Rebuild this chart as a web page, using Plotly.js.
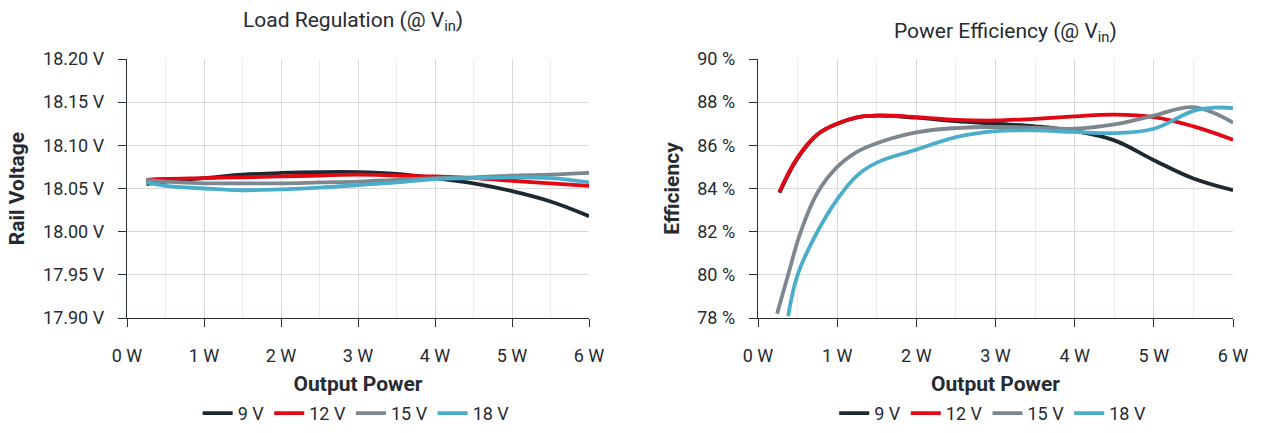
<!DOCTYPE html>
<html><head><meta charset="utf-8">
<script src="https://cdn.plot.ly/plotly-3.0.1.min.js"></script>
<style>html,body{margin:0;padding:0;background:#fff}#chart{width:1263px;height:433px}</style>
</head><body><div id="chart"></div>
<script>
// ---- Data ----
var seriesNames = ['9 V', '12 V', '15 V', '18 V'];
var seriesColors = ['#1e2830', '#e30613', '#7d878f', '#4aaeca'];

// Load regulation (Rail voltage, V) vs output power (W)
var lrX = [0.25, 0.5, 1, 1.5, 2, 2.5, 3, 3.5, 4, 4.5, 5, 5.5, 6];
var lr9  = [18.055, 18.058, 18.062, 18.066, 18.068, 18.069, 18.069, 18.067, 18.062, 18.056, 18.047, 18.035, 18.018];
var lr12 = [18.060, 18.061, 18.062, 18.063, 18.064, 18.065, 18.066, 18.065, 18.064, 18.062, 18.059, 18.056, 18.053];
var lr15 = [18.060, 18.058, 18.056, 18.056, 18.056, 18.057, 18.058, 18.060, 18.062, 18.063, 18.065, 18.066, 18.068];
var lr18 = [18.057, 18.053, 18.050, 18.048, 18.049, 18.051, 18.054, 18.057, 18.061, 18.062, 18.063, 18.062, 18.057];

// Power efficiency (%) vs output power (W)
var ef9X  = [0.27, 0.5, 0.75, 1, 1.25, 1.5, 2, 2.5, 3, 3.5, 4, 4.5, 5, 5.5, 6];
var ef9   = [83.8, 85.4, 86.5, 87.0, 87.3, 87.38, 87.28, 87.12, 87.0, 86.88, 86.66, 86.23, 85.31, 84.46, 83.92];
var ef12X = [0.27, 0.5, 0.75, 1, 1.25, 1.5, 2, 2.5, 3, 3.5, 4, 4.5, 5, 5.5, 6];
var ef12  = [83.85, 85.45, 86.5, 87.0, 87.3, 87.38, 87.31, 87.18, 87.15, 87.23, 87.34, 87.42, 87.31, 86.88, 86.26];
var ef15X = [0.24, 0.38, 0.54, 0.75, 1, 1.25, 1.5, 2, 2.5, 3, 3.5, 4, 4.5, 5, 5.5, 6];
var ef15  = [78.2, 80.0, 82.0, 83.8, 85.0, 85.7, 86.1, 86.6, 86.8, 86.85, 86.82, 86.77, 86.97, 87.38, 87.77, 87.05];
var ef18X = [0.38, 0.5, 0.75, 1, 1.25, 1.5, 2, 2.5, 3, 3.5, 4, 4.5, 5, 5.5, 5.8, 6];
var ef18  = [78.08, 80.0, 82.0, 83.5, 84.6, 85.2, 85.8, 86.38, 86.66, 86.69, 86.62, 86.57, 86.77, 87.6, 87.75, 87.72];

var xTickVals = [0, 1, 2, 3, 4, 5, 6];
var xTickText = ['0 W', '1 W', '2 W', '3 W', '4 W', '5 W', '6 W'];
var lrTickVals = [17.90, 17.95, 18.00, 18.05, 18.10, 18.15, 18.20];
var lrTickText = ['17.90 V', '17.95 V', '18.00 V', '18.05 V', '18.10 V', '18.15 V', '18.20 V'];
var efTickVals = [78, 80, 82, 84, 86, 88, 90];
var efTickText = ['78 %', '80 %', '82 %', '84 %', '86 %', '88 %', '90 %'];

// ---- Traces ----
var lrY = [lr9, lr12, lr15, lr18];
var efX = [ef9X, ef12X, ef15X, ef18X];
var efY = [ef9, ef12, ef15, ef18];
var traces = [];
for (var i = 0; i < 4; i++) {
  traces.push({x: lrX, y: lrY[i], name: seriesNames[i], type: 'scatter', mode: 'lines',
    line: {color: seriesColors[i], width: 3.8, shape: 'spline', smoothing: 1.1},
    xaxis: 'x', yaxis: 'y', legend: 'legend'});
}
for (var j = 0; j < 4; j++) {
  traces.push({x: efX[j], y: efY[j], name: seriesNames[j], type: 'scatter', mode: 'lines',
    line: {color: seriesColors[j], width: 3.8, shape: 'spline', smoothing: 1.1},
    xaxis: 'x2', yaxis: 'y2', legend: 'legend2'});
}

var fontFam = 'Roboto, "Open Sans", sans-serif';
var txtCol = '#262b31';
function xax(domain, anchor) {
  return {domain: domain, anchor: anchor, range: [0, 6], tickmode: 'array', tickvals: xTickVals, ticktext: xTickText,
    showline: true, linecolor: '#2a2f36', linewidth: 1.3, ticks: 'outside', ticklen: 8, tickcolor: '#2a2f36',
    ticklabelstandoff: 13,
    showgrid: true, gridcolor: '#d9d9d9', gridwidth: 1, zeroline: false,
    minor: {dtick: 0.5, showgrid: true, gridcolor: '#ececec', gridwidth: 1, ticks: ''},
    tickfont: {size: 18, color: txtCol, family: fontFam},
    title: {text: 'Output Power', font: {size: 21, color: txtCol, family: fontFam, weight: 'bold'}, standoff: 11},
    fixedrange: true};
}
function yax(anchor, range, vals, texts, title) {
  return {domain: [0, 1], anchor: anchor, range: range, tickmode: 'array', tickvals: vals, ticktext: texts,
    showline: true, linecolor: '#2a2f36', linewidth: 1.3, ticks: 'outside', ticklen: 8, tickcolor: '#2a2f36',
    ticklabelstandoff: 10,
    showgrid: true, gridcolor: '#d9d9d9', gridwidth: 1, zeroline: false,
    tickfont: {size: 18, color: txtCol, family: fontFam},
    title: {text: title, font: {size: 21, color: txtCol, family: fontFam, weight: 'bold'}, standoff: 12},
    fixedrange: true};
}

var layout = {
  width: 1263, height: 433,
  margin: {l: 0, r: 0, t: 59, b: 115},
  paper_bgcolor: '#fff', plot_bgcolor: '#fff',
  font: {family: fontFam, color: txtCol},
  showlegend: true,
  xaxis: xax([0.1006, 0.4664], 'y'),
  yaxis: yax('x', [17.9, 18.2], lrTickVals, lrTickText, 'Rail Voltage'),
  xaxis2: xax([0.6002, 0.9763], 'y2'),
  yaxis2: yax('x2', [78, 90], efTickVals, efTickText, 'Efficiency'),
  legend: {orientation: 'h', x: 0.282, xanchor: 'center', y: -0.44, yanchor: 'bottom',
    font: {size: 18, color: txtCol, family: fontFam}, itemwidth: 30, tracegroupgap: 0, bgcolor: 'rgba(0,0,0,0)'},
  legend2: {orientation: 'h', x: 0.786, xanchor: 'center', y: -0.44, yanchor: 'bottom',
    font: {size: 18, color: txtCol, family: fontFam}, itemwidth: 30, tracegroupgap: 0, bgcolor: 'rgba(0,0,0,0)'},
  annotations: [
    {text: 'Load Regulation (@ V<sub>in</sub>)', xref: 'paper', yref: 'paper', x: 0.2795, y: 1.143,
     xanchor: 'center', yanchor: 'middle', showarrow: false, font: {size: 21, color: txtCol, family: fontFam, weight: 'normal'}},
    {text: 'Power Efficiency (@ V<sub>in</sub>)', xref: 'paper', yref: 'paper', x: 0.7965, y: 1.104,
     xanchor: 'center', yanchor: 'middle', showarrow: false, font: {size: 21, color: txtCol, family: fontFam, weight: 'normal'}}
  ]
};

Plotly.newPlot('chart', traces, layout, {staticPlot: true, displayModeBar: false});
</script></body></html>
